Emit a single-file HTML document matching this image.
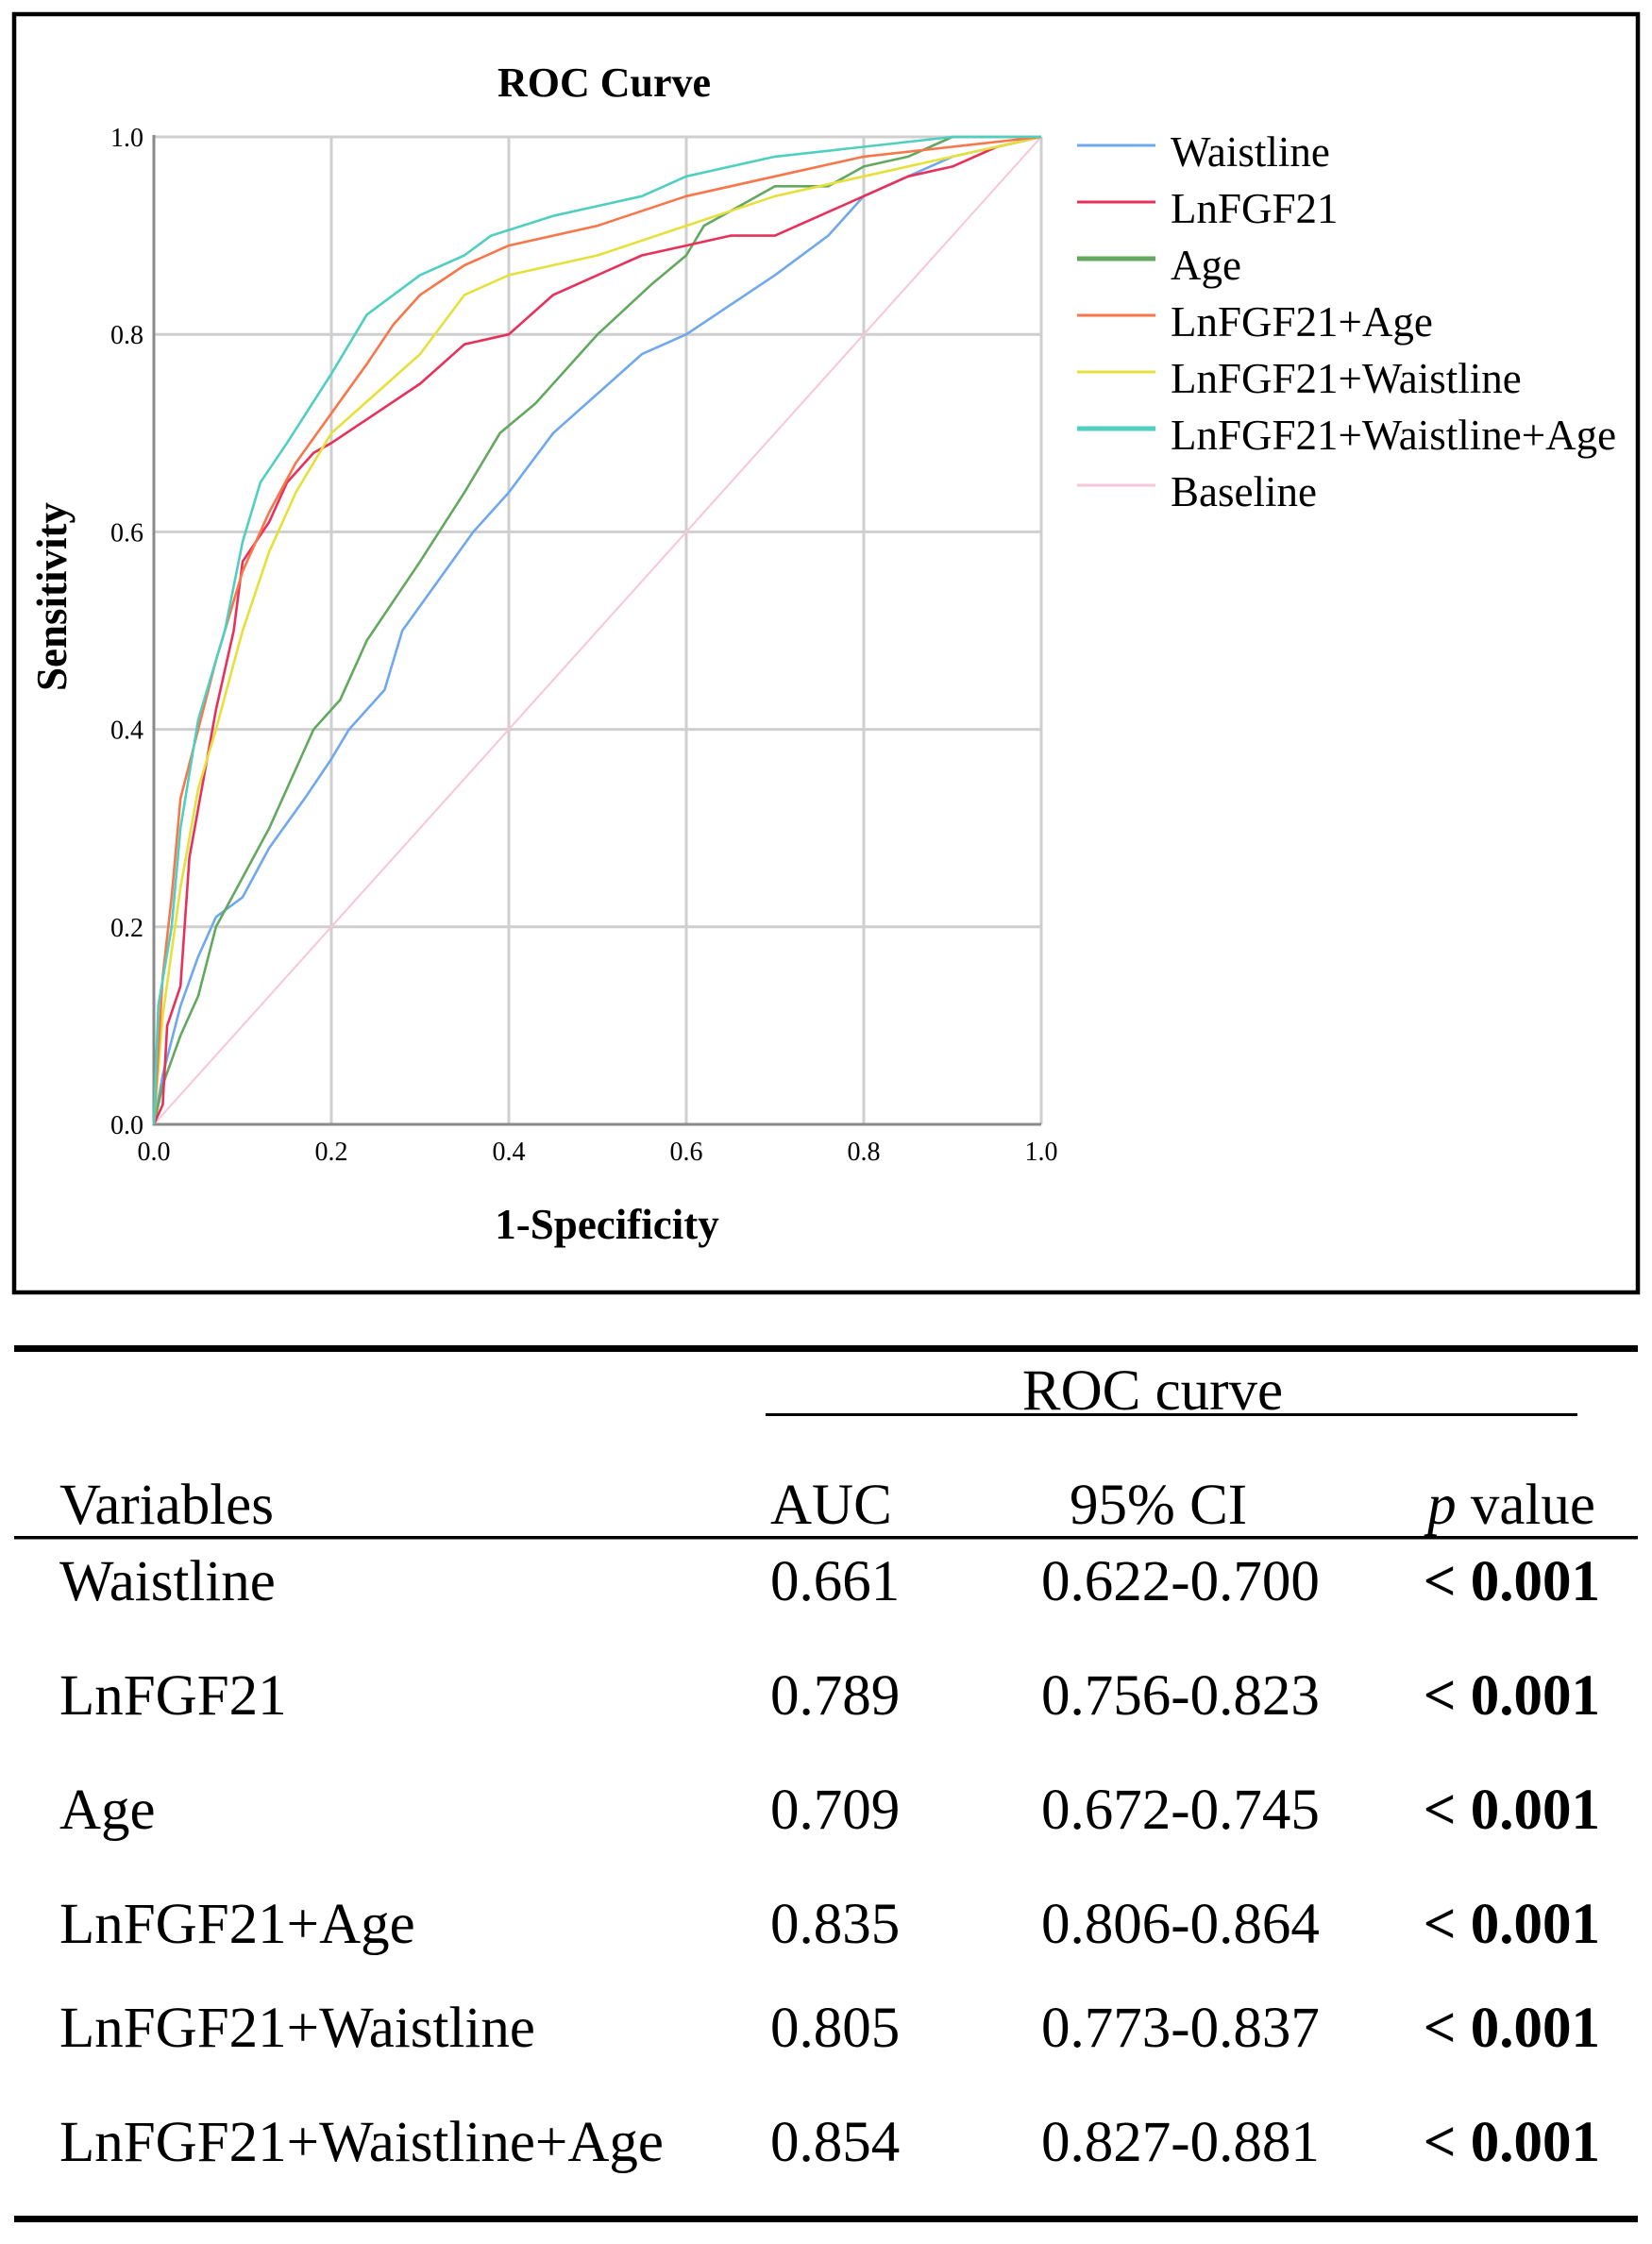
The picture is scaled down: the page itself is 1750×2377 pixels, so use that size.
<!DOCTYPE html>
<html><head><meta charset="utf-8"><style>
body{margin:0;background:#fff;width:1750px;height:2372px;overflow:hidden;font-family:"Liberation Serif",serif;}
svg text{font-family:"Liberation Serif",serif;}
</style></head><body>
<svg id="chart" width="1750" height="2372" xmlns="http://www.w3.org/2000/svg">
<rect x="15" y="15" width="1720" height="1354" fill="#fff" stroke="#000" stroke-width="4.5"/>
<text x="640" y="102" font-size="44" font-weight="bold" text-anchor="middle">ROC Curve</text>
<g id="grid"></g>
<g id="series"></g>
<g id="ticks"></g>
<text x="643" y="1312" font-size="45" font-weight="bold" text-anchor="middle">1-Specificity</text>
<text transform="translate(70,632) rotate(-90)" font-size="45" font-weight="bold" text-anchor="middle">Sensitivity</text>
<g id="legend"></g>

<g font-size="61">
<rect x="15" y="1425" width="1720" height="7" fill="#000"/>
<text x="1221" y="1493" text-anchor="middle">ROC curve</text>
<rect x="811" y="1497" width="860" height="3" fill="#000"/>
<text x="63" y="1614">Variables</text>
<text x="816" y="1614">AUC</text>
<text x="1133" y="1614">95% CI</text>
<text x="1690" y="1614" text-anchor="end"><tspan font-style="italic">p</tspan> value</text>
<rect x="15" y="1627" width="1720" height="3.5" fill="#000"/>
<g id="rows"></g>
<rect x="15" y="2347" width="1720" height="7" fill="#000"/>
</g>
</svg>
<script>
const NS="http://www.w3.org/2000/svg";
const seriesNames=["Waistline","LnFGF21","Age","LnFGF21+Age","LnFGF21+Waistline","LnFGF21+Waistline+Age","Baseline"];
const seriesColors=["#6fa8ec","#e8315a","#63a85f","#f8764a","#e6e03a","#4fcfc0","#f8c6d8"];
const waistX=[0,0.01,0.03,0.05,0.07,0.1,0.13,0.17,0.2,0.22,0.26,0.28,0.32,0.36,0.4,0.45,0.5,0.55,0.6,0.65,0.7,0.76,0.8,0.85,0.9,0.95,1];
const waistY=[0,0.05,0.12,0.17,0.21,0.23,0.28,0.33,0.37,0.40,0.44,0.50,0.55,0.60,0.64,0.70,0.74,0.78,0.80,0.83,0.86,0.90,0.94,0.96,0.98,0.99,1];
const fgfX=[0,0.01,0.015,0.03,0.04,0.05,0.07,0.09,0.1,0.13,0.15,0.18,0.2,0.25,0.3,0.35,0.4,0.45,0.5,0.55,0.6,0.65,0.7,0.75,0.8,0.85,0.9,0.95,1];
const fgfY=[0,0.02,0.10,0.14,0.27,0.32,0.42,0.50,0.57,0.61,0.65,0.68,0.69,0.72,0.75,0.79,0.80,0.84,0.86,0.88,0.89,0.90,0.90,0.92,0.94,0.96,0.97,0.99,1];
const ageX=[0,0.01,0.03,0.05,0.07,0.1,0.13,0.18,0.21,0.24,0.3,0.35,0.39,0.43,0.5,0.56,0.6,0.62,0.66,0.7,0.76,0.8,0.85,0.9,1];
const ageY=[0,0.04,0.09,0.13,0.20,0.25,0.30,0.40,0.43,0.49,0.57,0.64,0.70,0.73,0.80,0.85,0.88,0.91,0.93,0.95,0.95,0.97,0.98,1.0,1];
const fgfAgeX=[0,0.01,0.02,0.03,0.05,0.07,0.1,0.13,0.16,0.2,0.24,0.27,0.3,0.35,0.4,0.5,0.6,0.7,0.8,0.9,1];
const fgfAgeY=[0,0.15,0.23,0.33,0.40,0.47,0.56,0.62,0.67,0.72,0.77,0.81,0.84,0.87,0.89,0.91,0.94,0.96,0.98,0.99,1];
const fgfWaistX=[0,0.01,0.03,0.05,0.07,0.1,0.13,0.16,0.2,0.25,0.3,0.35,0.4,0.5,0.6,0.7,0.8,0.9,1];
const fgfWaistY=[0,0.11,0.24,0.34,0.40,0.50,0.58,0.64,0.70,0.74,0.78,0.84,0.86,0.88,0.91,0.94,0.96,0.98,1];
const allX=[0,0.005,0.02,0.03,0.05,0.08,0.1,0.12,0.15,0.2,0.24,0.3,0.35,0.38,0.45,0.55,0.6,0.7,0.8,0.9,1];
const allY=[0,0.12,0.20,0.30,0.41,0.50,0.59,0.65,0.69,0.76,0.82,0.86,0.88,0.90,0.92,0.94,0.96,0.98,0.99,1.0,1];
const baseX=[0,1];
const baseY=[0,1];
const xTicks=["0.0","0.2","0.4","0.6","0.8","1.0"];
const yTicks=["0.0","0.2","0.4","0.6","0.8","1.0"];
const tableVars=["Waistline","LnFGF21","Age","LnFGF21+Age","LnFGF21+Waistline","LnFGF21+Waistline+Age"];
const tableAUC=["0.661","0.789","0.709","0.835","0.805","0.854"];
const tableCI=["0.622-0.700","0.756-0.823","0.672-0.745","0.806-0.864","0.773-0.837","0.827-0.881"];
const tableP=["0.001","0.001","0.001","0.001","0.001","0.001"];

const X0=163,X1=1103,Y0=1191,Y1=145;
const sx=v=>X0+v*(X1-X0), sy=v=>Y0-v*(Y0-Y1);
function mk(tag,attrs,parent){const e=document.createElementNS(NS,tag);for(const k in attrs)e.setAttribute(k,attrs[k]);parent.appendChild(e);return e;}
const grid=document.getElementById('grid');
xTicks.forEach((t,i)=>{const v=parseFloat(t);
  const l=mk('line',{x1:sx(v),x2:sx(v),y1:Y1,y2:Y0,stroke:'#cfcfcf','stroke-width':3},grid);
  
  
  const tx=mk('text',{x:sx(v),y:1229,'font-size':28,'text-anchor':'middle'},document.getElementById('ticks'));tx.textContent=t;
  
  
});
yTicks.forEach((t,i)=>{const v=parseFloat(t);
  const l=mk('line',{x1:X0,x2:X1,y1:sy(v),y2:sy(v),stroke:'#cfcfcf','stroke-width':3},grid);
  
  
  const tx=mk('text',{x:152,y:sy(v)+10,'font-size':28,'text-anchor':'end'},document.getElementById('ticks'));tx.textContent=t;
  
  
});
const ax=mk('path',{d:`M${X0},${Y1-2}V${Y0}H${X1}`,fill:'none',stroke:'#8a8a8a','stroke-width':3},grid);


const xs=[waistX,fgfX,ageX,fgfAgeX,fgfWaistX,allX,baseX], ys=[waistY,fgfY,ageY,fgfAgeY,fgfWaistY,allY,baseY];
const order=[6,0,2,1,4,3,5];
const sg=document.getElementById('series');
order.forEach(i=>{
  const pts=xs[i].map((x,j)=>sx(x).toFixed(1)+','+sy(ys[i][j]).toFixed(1)).join(' ');
  const p=mk('polyline',{points:pts,fill:'none',stroke:seriesColors[i],'stroke-width':i==6?2:2.6,'stroke-linejoin':'round'},sg);
  
  
});
const lg=document.getElementById('legend');
seriesNames.forEach((n,i)=>{const y=176+i*60;
  const l=mk('line',{x1:1141,x2:1224,y1:y-22,y2:y-22,stroke:seriesColors[i],'stroke-width':i==2||i==5?5:3},lg);
  
  
  const t=mk('text',{x:1240,y:y,'font-size':45},lg);t.textContent=n;
  
  
});
const rows=document.getElementById('rows');
const rowY=[1695,1816,1937,2058,2168,2289];
tableVars.forEach((v,i)=>{const y=rowY[i];
  const a=mk('text',{x:63,y:y},rows);a.textContent=v;
  
  
  const b=mk('text',{x:816,y:y},rows);b.textContent=tableAUC[i];
  
  
  const c=mk('text',{x:1103,y:y},rows);c.textContent=tableCI[i];
  
  
  const d=mk('text',{x:1695,y:y,'text-anchor':'end','font-weight':'bold'},rows);d.textContent='< '+tableP[i];
  
  
});
</script>
</body></html>
